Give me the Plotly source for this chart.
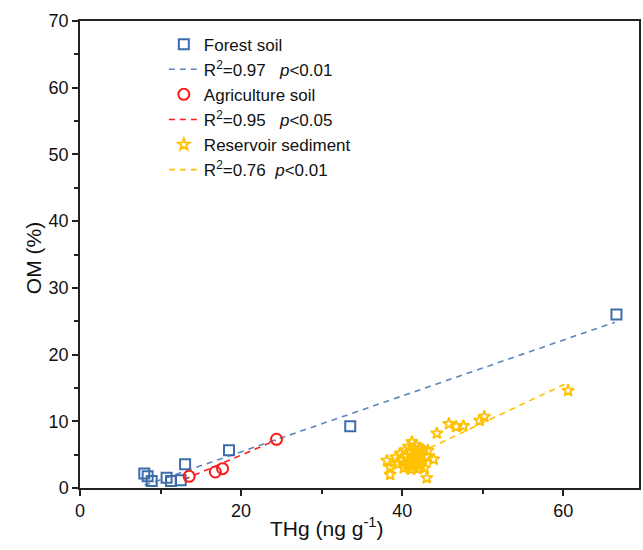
import plotly.graph_objects as go

# ---- data ----
forest_x = [7.98, 8.4, 8.9, 10.75, 11.3, 12.5, 13.05, 18.5, 33.55, 66.6]
forest_y = [2.16, 1.75, 1.05, 1.55, 1.05, 1.15, 3.55, 5.65, 9.25, 26.0]

agri_x = [13.55, 16.8, 17.7, 24.4]
agri_y = [1.75, 2.4, 2.9, 7.3]

res_x = [38.1, 38.5, 38.5, 39.2, 39.5, 39.8, 40.0, 40.2, 40.3, 40.5, 40.6, 40.8,
         40.9, 41.0, 41.1, 41.2, 41.3, 41.4, 41.5, 41.6, 41.7, 41.8, 41.9, 42.0,
         42.1, 42.2, 42.3, 42.4, 42.5, 42.6, 42.8, 43.0, 43.2, 43.05, 43.9, 44.3,
         45.8, 46.7, 47.6, 49.6, 50.2, 60.6]
res_y = [4.1, 3.1, 2.0, 4.6, 3.6, 5.2, 4.2, 3.0, 5.6, 4.8, 3.5, 6.2,
         4.0, 5.3, 2.8, 6.9, 4.5, 3.3, 5.9, 4.9, 6.4, 3.9, 2.9, 5.4,
         4.4, 6.0, 3.5, 5.0, 4.0, 5.7, 3.0, 4.7, 5.6, 1.5, 4.3, 8.2,
         9.6, 9.2, 9.3, 10.1, 10.7, 14.6]

forest_fit_x = [8.0, 66.4]
forest_fit_y = [0.4, 24.85]
agri_fit_x = [12.9, 24.3]
agri_fit_y = [1.25, 7.15]
res_fit_x = [38.5, 60.5]
res_fit_y = [3.2, 15.75]

names = ["Forest soil", "R<sup>2</sup>=0.97   <i>p</i><0.01",
         "Agriculture soil", "R<sup>2</sup>=0.95   <i>p</i><0.05",
         "Reservoir sediment", "R<sup>2</sup>=0.76  <i>p</i><0.01"]

BLUE = "#3D6CAA"
BLUE_L = "#5B86BE"
RED = "#FF1A1A"
YEL = "#FFC000"

fig = go.Figure()

# fit lines (drawn first)
fig.add_trace(go.Scatter(x=forest_fit_x, y=forest_fit_y, mode="lines", name=names[1],
                         line=dict(color=BLUE_L, width=1.6, dash="6px,5px"), legendrank=2))
fig.add_trace(go.Scatter(x=agri_fit_x, y=agri_fit_y, mode="lines", name=names[3],
                         line=dict(color=RED, width=1.6, dash="6px,5px"), legendrank=4))
fig.add_trace(go.Scatter(x=res_fit_x, y=res_fit_y, mode="lines", name=names[5],
                         line=dict(color=YEL, width=1.6, dash="6px,5px"), legendrank=6))

# points
fig.add_trace(go.Scatter(x=forest_x, y=forest_y, mode="markers", name=names[0],
                         marker=dict(symbol="square-open", size=10, color=BLUE,
                                     line=dict(width=2, color=BLUE)), legendrank=1))
fig.add_trace(go.Scatter(x=agri_x, y=agri_y, mode="markers", name=names[2],
                         marker=dict(symbol="circle-open", size=11, color=RED,
                                     line=dict(width=2, color=RED)), legendrank=3))
fig.add_trace(go.Scatter(x=res_x, y=res_y, mode="markers", name=names[4],
                         marker=dict(symbol="star-open", size=9, color=YEL,
                                     line=dict(width=1.8, color=YEL)), legendrank=5))

FONT = "Liberation Sans, Arial, sans-serif"
axis_common = dict(showline=True, mirror=True, linecolor="#222", linewidth=1.5,
                   ticks="outside", ticklen=6, tickwidth=1.5, tickcolor="#222",
                   showgrid=False, zeroline=False,
                   tickfont=dict(family=FONT, size=18, color="#111"))

fig.update_layout(
    width=643, height=550,
    margin=dict(l=80, r=2, t=21, b=62),
    plot_bgcolor="white", paper_bgcolor="white",
    font=dict(family=FONT, color="#111"),
    xaxis=dict(range=[0, 69.4], dtick=20, tick0=0,
               minor=dict(dtick=10, ticklen=4, tickwidth=1.5, tickcolor="#222", ticks="outside"),
               **axis_common),
    yaxis=dict(range=[0, 70], dtick=10, tick0=0,
               minor=dict(dtick=5, ticklen=4, tickwidth=1.5, tickcolor="#222", ticks="outside"),
               **axis_common),
    showlegend=True,
    legend=dict(x=0.15, y=0.988, xanchor="left", yanchor="top",
                bgcolor="rgba(0,0,0,0)", font=dict(family=FONT, size=17, color="#111"),
                traceorder="normal", itemwidth=30),
    annotations=[
        dict(text="THg (ng g<sup>-1</sup>)", xref="paper", yref="paper",
             x=(327 - 80) / 561, y=-(527 - 488) / 467, xanchor="center", yanchor="middle",
             showarrow=False, font=dict(family=FONT, size=21, color="#111")),
        dict(text="OM (%)", xref="paper", yref="paper",
             x=-(80 - 33) / 561, y=(488 - 258) / 467, xanchor="center", yanchor="middle",
             textangle=-90, showarrow=False, font=dict(family=FONT, size=21, color="#111")),
    ],
)

fig.write_html("out.html")
